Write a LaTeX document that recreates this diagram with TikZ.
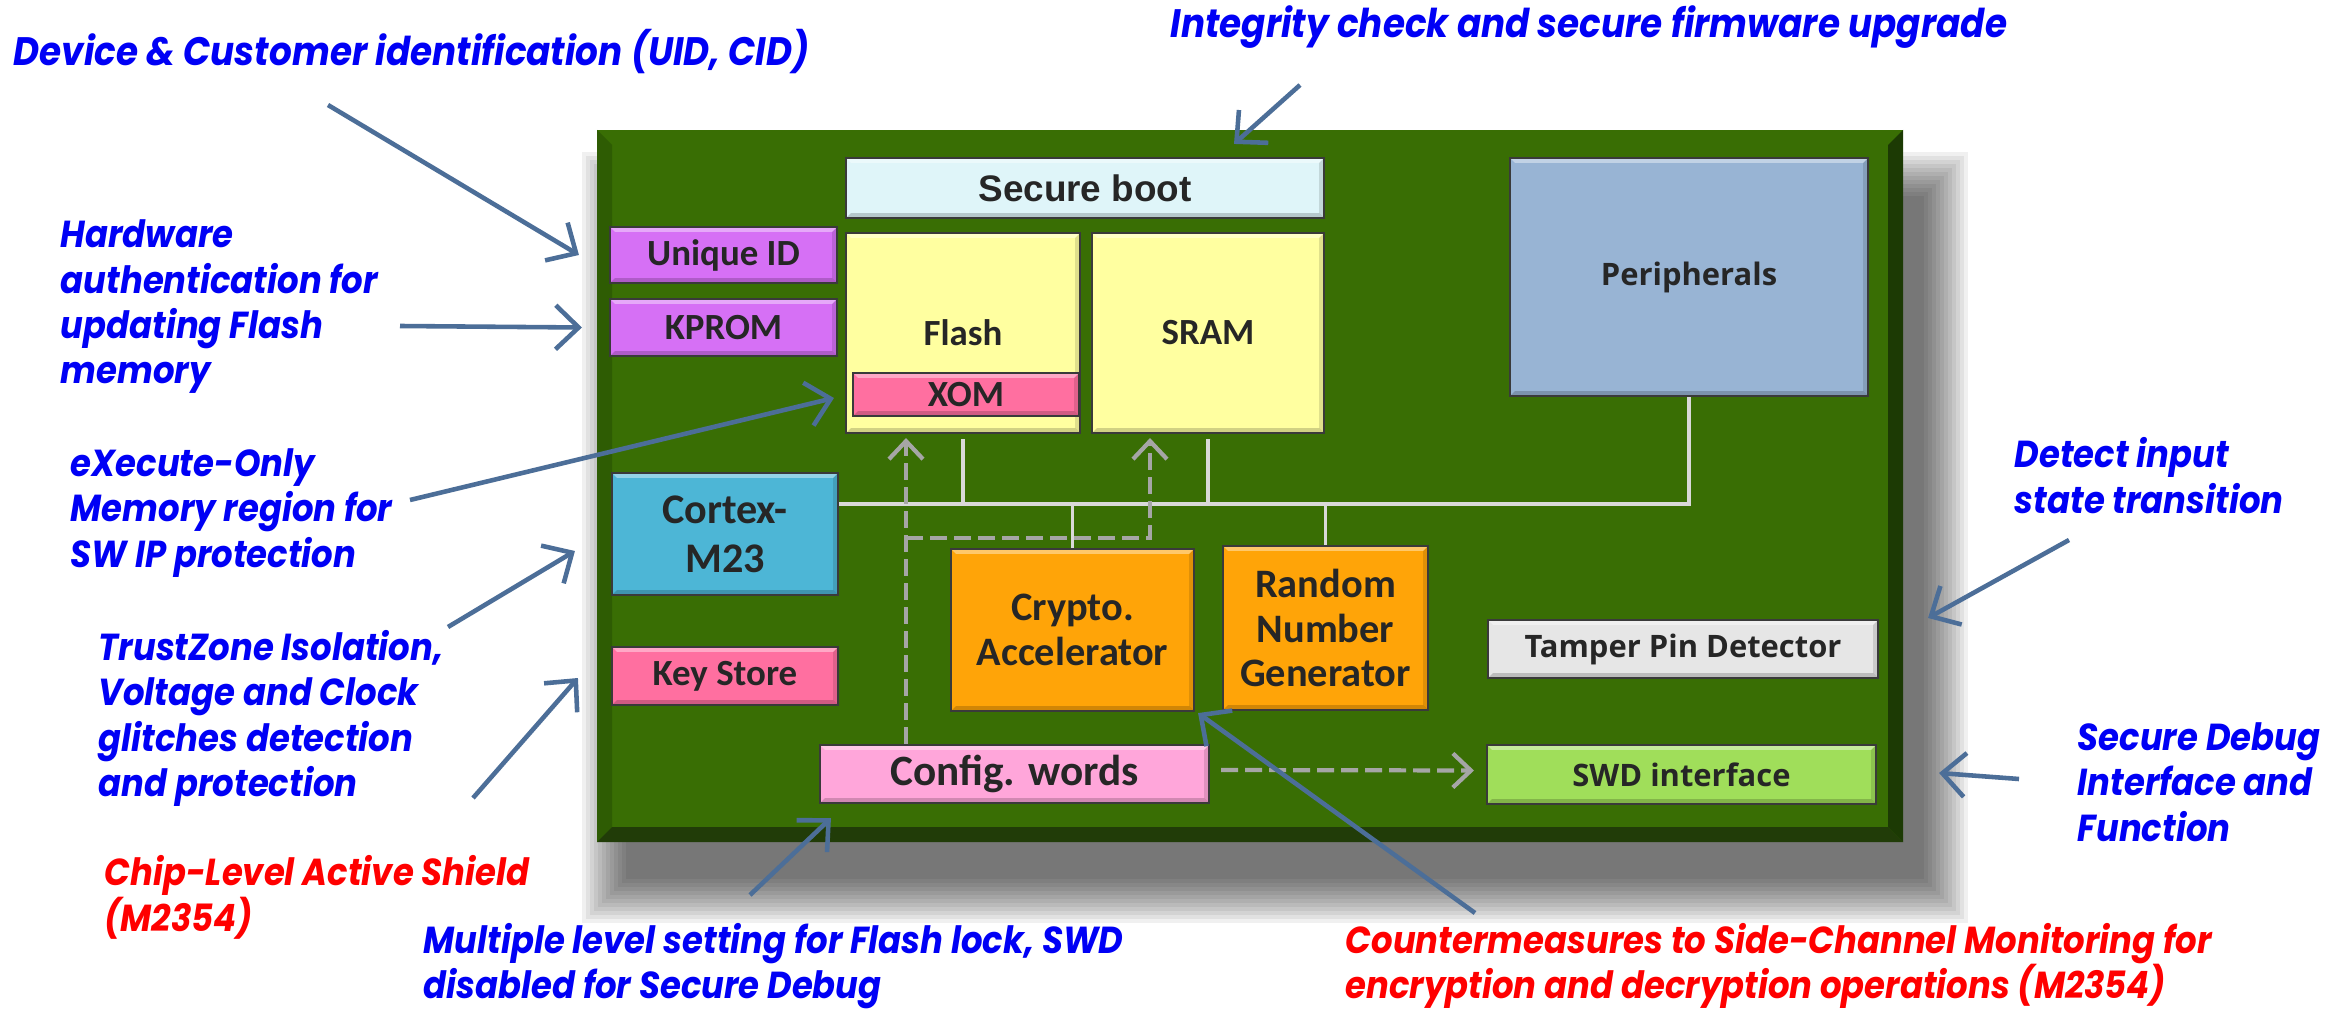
\documentclass[tikz,border=0pt]{standalone}
\usepackage{fontspec}
\setmainfont{Carlito}
\newfontfamily\notefont{Poppins}[FakeStretch=0.9]
\newfontfamily\arialfont{Liberation Sans}
\newfontfamily\uifont{Open Sans}
\usetikzlibrary{positioning, arrows.meta, calc}

\definecolor{chipgreen}{RGB}{57,110,4}
\definecolor{chipleft}{RGB}{46,92,3}
\definecolor{chipbottom}{RGB}{33,60,8}
\definecolor{chipright}{RGB}{28,58,4}
\definecolor{boxedge}{RGB}{58,58,58}
\definecolor{labelgray}{RGB}{38,38,38}
\definecolor{notearrow}{RGB}{76,110,152}
\definecolor{notetext}{RGB}{0,0,245}
\definecolor{warntext}{RGB}{255,0,0}
\definecolor{busgray}{RGB}{217,217,217}
\definecolor{ctrlgray}{RGB}{166,166,166}

\tikzset{
  % bevelled block like the slide shapes
  bevel/.style={path picture={
    \path (path picture bounding box.south west) coordinate (bvSW)
          (path picture bounding box.north east) coordinate (bvNE);
    \fill[white, opacity=0.4] (bvSW |- bvNE) -- (bvNE) -- ([shift={(-1.4pt,-1.4pt)}]bvNE)
      -- ([shift={(1.4pt,-1.4pt)}]bvSW |- bvNE) -- cycle;
    \fill[black, opacity=0.18] (bvSW) -- (bvSW -| bvNE) -- ([shift={(-1.4pt,1.4pt)}]bvSW -| bvNE)
      -- ([shift={(1.4pt,1.4pt)}]bvSW) -- cycle;
    \fill[black, opacity=0.12] (bvNE) -- (bvSW -| bvNE) -- ([shift={(-1.4pt,1.4pt)}]bvSW -| bvNE)
      -- ([shift={(-1.4pt,-1.4pt)}]bvNE) -- cycle;
  }},
  chipbox/.style={
    bevel,
    draw=boxedge,
    line width=0.6pt,
    inner sep=0pt,
    align=center,
    text=labelgray,
    font=\fontsize{10.5}{12}\selectfont\bfseries,
  },
  bootbox/.style={chipbox, fill={rgb,255:red,223;green,245;blue,249}, font=\arialfont\fontsize{10.5}{12}\selectfont\bfseries},
  idbox/.style={chipbox, fill={rgb,255:red,214;green,112;blue,245}},
  membox/.style={chipbox, fill={rgb,255:red,255;green,255;blue,160}},
  keybox/.style={chipbox, fill={rgb,255:red,255;green,111;blue,160}},
  cpubox/.style={chipbox, fill={rgb,255:red,77;green,182;blue,214}, font=\fontsize{12}{14}\selectfont\bfseries},
  cryptobox/.style={chipbox, fill={rgb,255:red,255;green,164;blue,8}, font=\fontsize{11.5}{12.6}\selectfont\bfseries},
  periphbox/.style={chipbox, fill={rgb,255:red,152;green,180;blue,212}, font=\uifont\fontsize{8.8}{10}\selectfont\bfseries},
  pinbox/.style={chipbox, fill={rgb,255:red,230;green,230;blue,230}, font=\uifont\fontsize{8.8}{10}\selectfont\bfseries},
  swdbox/.style={chipbox, fill={rgb,255:red,160;green,222;blue,90}, font=\uifont\fontsize{8.8}{10}\selectfont\bfseries},
  cfgbox/.style={chipbox, fill={rgb,255:red,255;green,166;blue,218}, font=\fontsize{12.3}{14}\selectfont\bfseries},
  % callouts round the chip
  note/.style={anchor=west, inner sep=0pt, align=left, text=notetext,
    font=\notefont\fontsize{10.7}{12.9}\selectfont\bfseries\itshape},
  bignote/.style={note, font=\notefont\fontsize{11.3}{13}\selectfont\bfseries\itshape},
  warnnote/.style={note, text=warntext},
  notearr/.style={-{Straight Barb[length=2.3mm, width=4.4mm]}, line width=1.3pt, draw=notearrow},
  busline/.style={line width=1.1pt, draw=busgray},
  ctrlarr/.style={-{Straight Barb[length=1.8mm, width=3.4mm]}, line width=1.2pt, draw=ctrlgray,
    dash pattern=on 1.7mm off 0.7mm},
}

\begin{document}
\begin{tikzpicture}[x=0.1mm, y=-0.1mm]
  \fill[white] (0,0) rectangle (2336,1010);
  \useasboundingbox (0,0) rectangle (2336,1010);

  % soft shadow, mostly below and right of the board
  \foreach \i in {1,...,12} {
    \fill[black, opacity=0.06] (630-\i*4, 200-\i*4) rectangle (1920+\i*4, 875+\i*4);
  }

  % board
  \fill[chipgreen] (597,130) rectangle (1903,842);
  \fill[chipleft] (597,130) -- (612,145) -- (612,827) -- (597,842) -- cycle;
  \fill[chipbottom] (597,842) -- (612,827) -- (1888,827) -- (1903,842) -- cycle;
  \fill[chipright] (1903,130) -- (1888,145) -- (1888,827) -- (1903,842) -- cycle;

  % blocks
  \node[bootbox, minimum width=47.8mm, minimum height=6mm] (secboot) at (1085,188) {Secure boot};
  \node[idbox, minimum width=22.7mm, minimum height=5.6mm] (uid) at (723.5,255) {Unique ID};
  \node[idbox, minimum width=22.7mm, minimum height=5.7mm] (kprom) at (723.5,327.5) {KPROM};
  \node[membox, minimum width=23.4mm, minimum height=20mm] (flash) at (963,333) {Flash};
  \node[keybox, minimum width=22.6mm, minimum height=4.3mm] (xom) at (966,394.5) {XOM};
  \node[membox, minimum width=23.2mm, minimum height=20mm] (sram) at (1208,333) {SRAM};
  \node[periphbox, minimum width=35.8mm, minimum height=23.8mm] (periph) at (1689,277) {Peripherals};
  \node[cpubox, minimum width=22.6mm, minimum height=12.2mm] (cortex) at (725,534) {Cortex-\\M23};
  \node[keybox, minimum width=22.6mm, minimum height=5.8mm] (keystore) at (725,676) {Key Store};
  \node[cryptobox, minimum width=24.3mm, minimum height=16.2mm] (crypto) at (1072.5,630) {Crypto.\\Accelerator};
  \node[cryptobox, minimum width=20.5mm, minimum height=16.4mm] (rng) at (1325.5,628) {Random\\Number\\Generator};
  \node[pinbox, minimum width=39mm, minimum height=5.8mm] (tamper) at (1683,649) {Tamper Pin Detector};
  \node[cfgbox, minimum width=38.9mm, minimum height=5.8mm] (config) at (1014.5,774) {Config. words};
  \node[swdbox, minimum width=38.9mm, minimum height=5.9mm] (swd) at (1681.5,774.5) {SWD interface};

  % system bus
  \coordinate (bus) at (0,504);
  \draw[busline] (cortex.east |- bus) -- (periph.south |- bus) -- (periph.south);
  \foreach \n in {flash, sram} {
    \draw[busline] ([yshift=-0.5mm]\n.south) -- (\n.south |- bus);
  }
  \foreach \n in {crypto, rng} {
    \draw[busline] (\n.north |- bus) -- (\n.north);
  }

  % config words control paths
  \coordinate (cfgtap) at ([xshift=-10.85mm]config.north);
  \draw[ctrlarr] (cfgtap) -- ([yshift=-0.4mm]cfgtap |- flash.south);
  \draw[ctrlarr] (cfgtap |- 0,538) -| ([xshift=-5.8mm, yshift=-0.4mm]sram.south);
  \draw[ctrlarr] ([xshift=1.1mm, yshift=0.4mm]config.east) -- ([xshift=-1.2mm, yshift=0.4mm]swd.west);

  % callouts
  \node[bignote] (n-uid) at (13,52) {Device \& Customer identification (UID, CID)};
  \node[bignote] (n-fw) at (1170,27) {Integrity check and secure firmware upgrade};
  \node[note] (n-kprom) at (60,307) {Hardware\\authentication for\\updating Flash\\memory};
  \node[note] (n-xom) at (70,513) {eXecute-Only\\Memory region for\\SW IP protection};
  \node[note] (n-tz) at (98,718.5) {TrustZone Isolation,\\Voltage and Clock\\glitches detection\\and protection};
  \node[warnnote] (n-shield) at (104,897.5) {Chip-Level Active Shield\\(M2354)};
  \node[note] (n-lock) at (423,966) {Multiple level setting for Flash lock, SWD\\disabled for Secure Debug};
  \node[warnnote] (n-side) at (1345,966) {Countermeasures to Side-Channel Monitoring for\\encryption and decryption operations (M2354)};
  \node[note] (n-pin) at (2014,475.5) {Detect input\\state transition};
  \node[note] (n-swd) at (2077,782) {Secure Debug\\Interface and\\Function};

  \coordinate (t-uid) at (328,105);
  \coordinate (t-kprom) at (400,326);
  \coordinate (t-xom) at (410,500);
  \coordinate (t-cpu) at (448,627);
  \coordinate (t-key) at (473,798);
  \coordinate (t-cfg) at (750,895);
  \coordinate (t-side) at (1475,913);
  \coordinate (t-pin) at (2069,540);
  \coordinate (t-swd) at (2019,779);
  \coordinate (t-fw) at (1300,85);

  \coordinate (h-uid) at ([xshift=-3mm]uid.west);
  \coordinate (h-kprom) at ([xshift=-2.7mm]kprom.west);
  \coordinate (h-xom) at ([xshift=-1.8mm, yshift=-0.35mm]xom.west);
  \coordinate (h-cpu) at ([xshift=-3.6mm, yshift=-1.7mm]cortex.west);
  \coordinate (h-key) at ([xshift=-3.3mm, yshift=-0.2mm]keystore.west);
  \coordinate (h-cfg) at ([xshift=1.2mm, yshift=-1.4mm]config.south west);
  \coordinate (h-side) at ([xshift=0.3mm, yshift=-0.1mm]crypto.south east);
  \coordinate (h-pin) at ([xshift=4.9mm, yshift=3.1mm]tamper.east);
  \coordinate (h-swd) at ([xshift=6.2mm, yshift=0.15mm]swd.east);
  \coordinate (h-fw) at ([xshift=14.9mm, yshift=1.3mm]secboot.north);

  \foreach \n in {uid, kprom, xom, cpu, key, cfg, side, pin, swd, fw} {
    \draw[notearr] (t-\n) -- (h-\n);
  }
\end{tikzpicture}
\end{document}
